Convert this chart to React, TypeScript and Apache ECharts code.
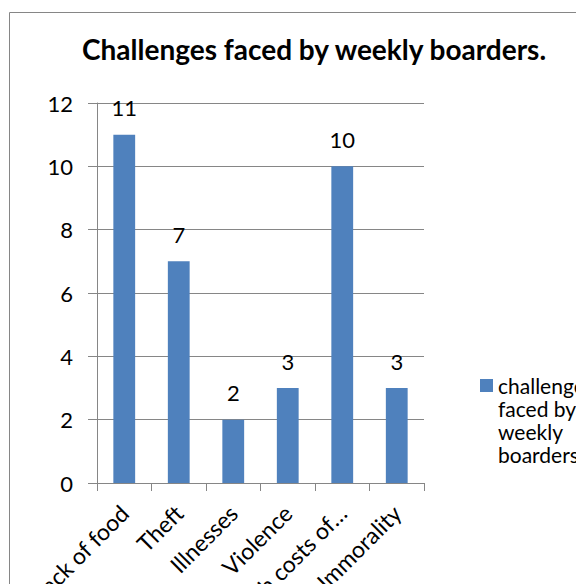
import React, { useEffect, useRef } from "react";
import * as echarts from "echarts";

const categories = ["Lack of food", "Theft", "Illnesses", "Violence", "High costs of…", "Immorality"];
const values = [11, 7, 2, 3, 10, 3];
const seriesName = "challenges faced by weekly boarders";
const titleText = "Challenges faced by weekly boarders.";

export default function App() {
  const ref = useRef<HTMLDivElement>(null);
  useEffect(() => {
    if (!ref.current) return;
    const chart = echarts.init(ref.current, null, { renderer: "svg" });
    const font = "Lato, 'Open Sans', sans-serif";
    const gray = "#868686";
    chart.setOption({
      animation: false,
      backgroundColor: "#ffffff",
      title: {
        text: titleText,
        left: 82,
        top: 35,
        padding: 0,
        textStyle: { fontFamily: font, fontWeight: "bold", fontSize: 28, color: "#000" },
      },
      graphic: [
        {
          type: "rect",
          shape: { x: 9.5, y: 12.5, width: 800, height: 800 },
          style: { fill: "none", stroke: gray, lineWidth: 1 },
          silent: true,
        },
      ],
      legend: {
        left: 480,
        top: 305,
        orient: "vertical",
        itemWidth: 13,
        itemHeight: 13,
        icon: "rect",
        padding: 0,
        formatter: () => "\n\n\nchallenges\nfaced by\nweekly\nboarders",
        textStyle: { fontFamily: font, fontSize: 21, color: "#000", lineHeight: 23 },
        data: [seriesName],
      },
      grid: { left: 97, right: 152, top: 103, bottom: 101, containLabel: false, outerBoundsMode: "none" },
      xAxis: {
        type: "category",
        data: categories,
        axisLine: { lineStyle: { color: gray, width: 1 } },
        axisTick: { show: true, length: 8, lineStyle: { color: gray } },
        axisLabel: { rotate: 45, fontFamily: font, fontSize: 23, color: "#000", margin: 26, interval: 0 },
      },
      yAxis: {
        type: "value",
        min: 0,
        max: 12,
        interval: 2,
        axisLine: { show: true, lineStyle: { color: gray, width: 1 } },
        axisTick: { show: true, length: 9, lineStyle: { color: gray } },
        splitLine: { show: true, lineStyle: { color: gray, width: 1 } },
        axisLabel: { fontFamily: font, fontSize: 22, color: "#000", margin: 24 },
      },
      series: [
        {
          name: seriesName,
          type: "bar",
          data: values,
          barCategoryGap: "60%",
          itemStyle: { color: "#4f81bd" },
          label: { show: true, position: "top", distance: 16, fontFamily: font, fontSize: 22, color: "#000" },
        },
      ],
    });
    return () => chart.dispose();
  }, []);
  return <div ref={ref} style={{ position: "absolute", left: 0, top: 0, width: 576, height: 584 }} />;
}
